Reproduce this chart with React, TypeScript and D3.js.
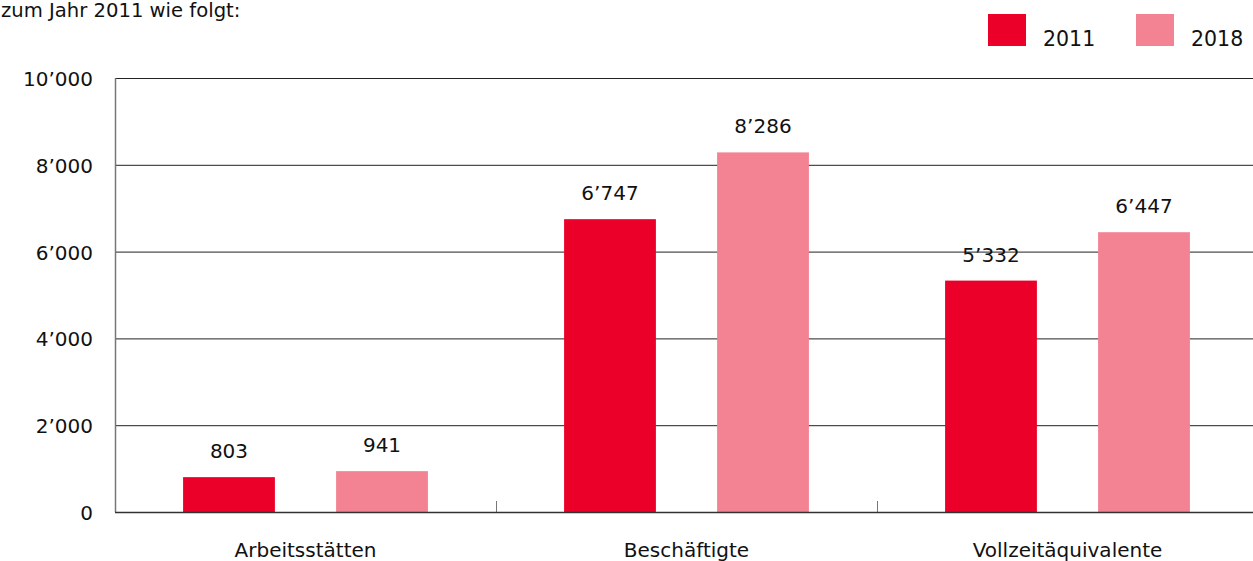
import { useEffect, useRef } from 'react'
import * as d3 from 'd3'

const CATEGORIES = ['Arbeitsstätten', 'Beschäftigte', 'Vollzeitäquivalente']
const YEARS = ['2011', '2018']
const VALUES_2011 = [803, 6747, 5332]
const VALUES_2018 = [941, 8286, 6447]
const Y_TICKS = [0, 2000, 4000, 6000, 8000, 10000]

const COLORS = ['#EA0029', '#F38293']
const WIDTH = 1253
const HEIGHT = 561
const FONT = '"DejaVu Sans", sans-serif'
const MARGIN = { top: 78, right: -5, bottom: 49, left: 115 }

const fmt = (v: number) => {
  const s = String(v)
  return s.length > 3 ? s.slice(0, s.length - 3) + '\u2019' + s.slice(s.length - 3) : s
}

export default function App() {
  const ref = useRef<SVGSVGElement>(null)

  useEffect(() => {
    const svg = d3.select(ref.current)
    svg.selectAll('*').remove()

    const innerW = WIDTH - MARGIN.left - MARGIN.right
    const innerH = HEIGHT - MARGIN.top - MARGIN.bottom

    const x = d3.scaleBand().domain(CATEGORIES).range([0, innerW])
    const xInner = d3
      .scaleBand()
      .domain(YEARS)
      .range([0, x.bandwidth()])
      .paddingInner(0.4)
      .paddingOuter(0.445)
    const y = d3.scaleLinear().domain([0, 10000]).range([innerH, 0])

    // intro text fragment
    svg
      .append('text')
      .attr('x', 1)
      .attr('y', 17)
      .attr('font-family', FONT)
      .attr('font-size', 19.6)
      .attr('fill', '#111')
      .text('zum Jahr 2011 wie folgt:')

    // legend
    const legend = svg.append('g')
    const legendX = [988, 1136]
    YEARS.forEach((yr, i) => {
      legend
        .append('rect')
        .attr('x', legendX[i])
        .attr('y', 14)
        .attr('width', 38)
        .attr('height', 32)
        .attr('fill', COLORS[i])
      legend
        .append('text')
        .attr('x', legendX[i] + 55)
        .attr('y', 46)
        .attr('font-family', FONT)
        .attr('font-size', 20.5)
        .attr('fill', '#111')
        .text(yr)
    })

    const g = svg.append('g').attr('transform', `translate(${MARGIN.left},${MARGIN.top})`)

    // gridlines + y labels
    Y_TICKS.forEach((t) => {
      if (t > 0) {
        g.append('line')
          .attr('x1', 0)
          .attr('x2', innerW)
          .attr('y1', y(t) + 0.5)
          .attr('y2', y(t) + 0.5)
          .attr('stroke', '#222')
          .attr('stroke-width', 1)
      }
      g.append('text')
        .attr('x', -22)
        .attr('y', y(t) + 8)
        .attr('text-anchor', 'end')
        .attr('font-family', FONT)
        .attr('font-size', 20)
        .attr('fill', '#111')
        .text(fmt(t))
    })

    // bars
    const series = [VALUES_2011, VALUES_2018]
    CATEGORIES.forEach((cat, ci) => {
      YEARS.forEach((yr, si) => {
        const v = series[si][ci]
        const bx = (x(cat) ?? 0) + (xInner(yr) ?? 0)
        g.append('rect')
          .attr('x', bx)
          .attr('y', y(v))
          .attr('width', xInner.bandwidth())
          .attr('height', innerH - y(v))
          .attr('fill', COLORS[si])
        g.append('text')
          .attr('x', bx + xInner.bandwidth() / 2)
          .attr('y', y(v) - 19)
          .attr('text-anchor', 'middle')
          .attr('font-family', FONT)
          .attr('font-size', 20)
          .attr('fill', '#111')
          .text(fmt(v))
      })
      g.append('text')
        .attr('x', (x(cat) ?? 0) + x.bandwidth() / 2)
        .attr('y', innerH + 45)
        .attr('text-anchor', 'middle')
        .attr('font-family', FONT)
        .attr('font-size', 20)
        .attr('fill', '#111')
        .text(cat)
    })

    // y axis line
    g.append('line')
      .attr('x1', 0.5)
      .attr('x2', 0.5)
      .attr('y1', 0)
      .attr('y2', innerH)
      .attr('stroke', '#777')
      .attr('stroke-width', 1.5)

    // category ticks
    CATEGORIES.forEach((cat) => {
      const tx = Math.round(x(cat) ?? 0) + 0.5
      g.append('line')
        .attr('x1', tx)
        .attr('x2', tx)
        .attr('y1', innerH - 11)
        .attr('y2', innerH)
        .attr('stroke', '#777')
        .attr('stroke-width', 1)
    })

    // baseline
    g.append('line')
      .attr('x1', 0)
      .attr('x2', innerW)
      .attr('y1', innerH + 0.5)
      .attr('y2', innerH + 0.5)
      .attr('stroke', '#333')
      .attr('stroke-width', 1.5)
  }, [])

  return (
    <svg
      ref={ref}
      width={WIDTH}
      height={HEIGHT}
      style={{ position: 'absolute', left: 0, top: 0, background: '#fff' }}
    />
  )
}
